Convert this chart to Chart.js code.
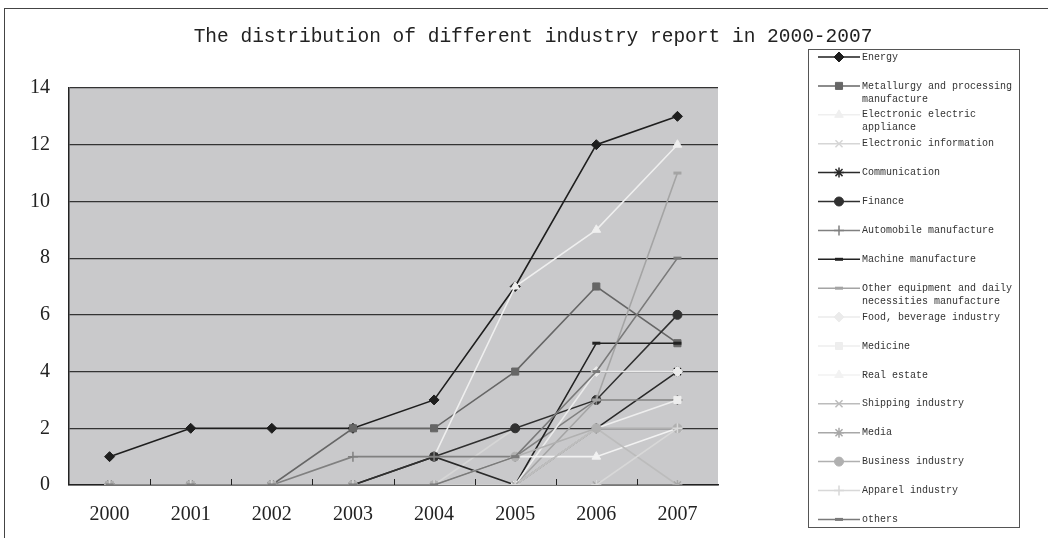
<!DOCTYPE html>
<html>
<head>
<meta charset="utf-8">
<script src="https://cdn.jsdelivr.net/npm/chart.js@4"></script>
<style>
  body { margin: 0; background: #fff; }
  #marco { position: absolute; left: 4px; top: 8px; width: 1100px; height: 600px; border: 1px solid #444; }
  #caja { position: absolute; left: 0; top: 0; width: 1048px; height: 538px; }
</style>
</head>
<body>
<div id="marco"></div>
<div id="caja"><canvas id="canvas" width="1048" height="538"></canvas></div>
<script>
// años del eje x
const anios = ["2000","2001","2002","2003","2004","2005","2006","2007"];

// valores de cada industria
const energy        = [1,2,2,2,3,7,12,13];
const metallurgy    = [0,0,0,2,2,4,7,5];
const elecAppliance = [0,0,0,0,1,7,9,12];
const elecInfo      = [0,0,0,0,0,2,3,3];
const communication = [0,0,0,0,1,0,2,4];
const finance       = [0,0,0,0,1,2,3,6];
const automobile    = [0,0,0,1,1,1,3,3];
const machine       = [0,0,0,0,0,0,5,5];
const otherEquip    = [0,0,0,0,0,0,3,11];
const food          = [0,0,0,0,0,0,4,4];
const medicine      = [0,0,0,0,0,0,2,3];
const realEstate    = [0,0,0,0,0,1,1,2];
const shipping      = [0,0,0,0,0,0,2,0];
const media         = [0,0,0,0,0,0,0,0];
const business      = [0,0,0,0,0,1,2,2];
const apparel       = [0,0,0,0,0,0,0,2];
const others        = [0,0,0,0,0,1,4,8];

const nombres = ["Energy","Metallurgy and processing manufacture","Electronic electric appliance",
  "Electronic information","Communication","Finance","Automobile manufacture","Machine manufacture",
  "Other equipment and daily necessities manufacture","Food, beverage industry","Medicine","Real estate",
  "Shipping industry","Media","Business industry","Apparel industry","others"];
const series = [energy,metallurgy,elecAppliance,elecInfo,communication,finance,automobile,machine,
  otherEquip,food,medicine,realEstate,shipping,media,business,apparel,others];
const colores = ["#1e1e1e","#666666","#efefef","#d6d6d6","#2a2a2a","#303030","#808080","#222222",
  "#a4a4a4","#ebebeb","#eeeeee","#f2f2f2","#bcbcbc","#a8a8a8","#b0b0b0","#d8d8d8","#7a7a7a"];
const marcas = ["rectRot","rect","triangle","crossRot","star","circle","cross","line",
  "line","rectRot","rect","triangle","crossRot","star","circle","cross","line"];

const fuenteMono = "'Liberation Mono', 'DejaVu Sans Mono', monospace";
const fuenteSerif = "'Liberation Serif', 'DejaVu Serif', serif";

// fondo gris del area de trazado, titulo, marcas del eje y leyenda
const extras = {
  id: "extras",
  beforeDraw(chart) {
    const {ctx, chartArea: a} = chart;
    ctx.save();
    ctx.fillStyle = "#c9c9cb";
    ctx.fillRect(a.left, a.top, a.right - a.left, a.bottom - a.top);
    ctx.restore();
  },
  afterDraw(chart) {
    const {ctx, chartArea: a} = chart;
    const x = chart.scales.x;
    ctx.save();
    // titulo
    ctx.fillStyle = "#222";
    ctx.font = "19.5px " + fuenteMono;
    ctx.textAlign = "center";
    ctx.textBaseline = "middle";
    ctx.fillText("The distribution of different industry report in 2000-2007", 533, 37);
    // marcas pequeñas entre categorias
    ctx.strokeStyle = "#222";
    ctx.lineWidth = 1;
    for (let i = 0; i < anios.length - 1; i++) {
      const px = Math.round((x.getPixelForValue(i) + x.getPixelForValue(i + 1)) / 2) + 0.5;
      ctx.beginPath();
      ctx.moveTo(px, a.bottom);
      ctx.lineTo(px, a.bottom - 6);
      ctx.stroke();
    }
    // caja de la leyenda
    ctx.strokeStyle = "#555";
    ctx.strokeRect(808.5, 49.5, 211, 478);
    ctx.font = "10px " + fuenteMono;
    ctx.textAlign = "left";
    chart.data.datasets.forEach((ds, i) => {
      const y = 57 + i * 28.9;
      ctx.strokeStyle = ds.borderColor;
      ctx.lineWidth = 1.5;
      ctx.beginPath();
      ctx.moveTo(818, y);
      ctx.lineTo(860, y);
      ctx.stroke();
      ctx.fillStyle = ds.pointBackgroundColor;
      ctx.lineWidth = ds.pointBorderWidth;
      Chart.helpers.drawPoint(ctx, {pointStyle: ds.pointStyle, radius: ds.pointRadius, rotation: 0, borderWidth: ds.pointBorderWidth}, 839, y);
      // parto el texto en lineas
      const palabras = ds.label.split(" ");
      let linea = "", lineas = [];
      palabras.forEach(p => {
        const prueba = linea ? linea + " " + p : p;
        if (ctx.measureText(prueba).width > 152 && linea) { lineas.push(linea); linea = p; }
        else linea = prueba;
      });
      lineas.push(linea);
      ctx.fillStyle = "#333";
      lineas.forEach((l, k) => ctx.fillText(l, 862, y + k * 13));
    });
    ctx.restore();
  }
};

// las series posteriores se dibujan encima, como en el original
const datasets = series.map((s, i) => ({
  label: nombres[i],
  data: s,
  order: series.length - i,
  borderColor: colores[i],
  backgroundColor: colores[i],
  pointBackgroundColor: colores[i],
  pointBorderColor: colores[i],
  pointStyle: marcas[i],
  pointRadius: marcas[i] === "line" ? 4 : (marcas[i] === "circle" ? 4.5 : 5),
  pointBorderWidth: (marcas[i] === "line") ? 3 : (marcas[i].startsWith("cross") || marcas[i] === "star" ? 1.5 : 1),
  borderWidth: 1.6,
  tension: 0
}));

new Chart(document.getElementById("canvas"), {
  type: "line",
  data: { labels: anios, datasets: datasets },
  options: {
    responsive: false,
    animation: false,
    layout: { padding: { top: 88, right: 330, left: 0, bottom: 0 } },
    plugins: { legend: { display: false }, title: { display: false }, tooltip: { enabled: false } },
    scales: {
      x: {
        offset: true,
        afterFit: s => { s.height = 53; },
        grid: { display: false, drawTicks: false },
        border: { display: true, color: "#222", width: 1.5 },
        ticks: { padding: 18, color: "#222", font: { family: fuenteSerif, size: 20 } }
      },
      y: {
        min: 0, max: 14,
        afterFit: s => { s.width = 69; },
        grid: { color: "#333", lineWidth: 1.2, drawTicks: false },
        border: { display: true, color: "#222", width: 1.5 },
        ticks: { stepSize: 2, padding: 19, color: "#222", font: { family: fuenteSerif, size: 20 } }
      }
    }
  },
  plugins: [extras]
});
</script>
</body>
</html>
